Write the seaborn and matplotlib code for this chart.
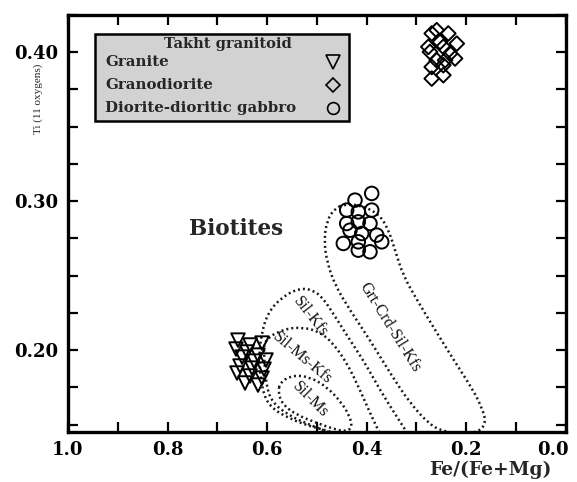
import numpy as np
import pandas as pd
import matplotlib
matplotlib.use("Agg")
import matplotlib.pyplot as plt
import matplotlib.transforms as mtransforms
import seaborn as sns
from matplotlib.path import Path
from matplotlib.patches import PathPatch, Rectangle
from matplotlib.ticker import MultipleLocator, FuncFormatter

# ---------------- data ----------------
granite_x = [0.6583, 0.6341, 0.6100, 0.6623, 0.6402, 0.6181, 0.6502, 0.6261, 0.6020,
             0.6542, 0.6301, 0.6060, 0.6603, 0.6341, 0.6100, 0.6442, 0.6181]
granite_y = [0.2067, 0.2034, 0.2047, 0.2007, 0.1987, 0.1966, 0.1953, 0.1926, 0.1933,
             0.1893, 0.1879, 0.1872, 0.1846, 0.1826, 0.1812, 0.1779, 0.1765]

granodiorite_x = [0.2689, 0.2589, 0.2356, 0.2757, 0.2522, 0.2456, 0.2186, 0.2724,
                  0.2321, 0.2589, 0.2421, 0.2220, 0.2689, 0.2456, 0.2689, 0.2456]
granodiorite_y = [0.4126, 0.4148, 0.4126, 0.4036, 0.4069, 0.4036, 0.4058, 0.4002,
                  0.3991, 0.3946, 0.3946, 0.3958, 0.3901, 0.3913, 0.3823, 0.3846]

diorite_x = [0.3895, 0.4231, 0.4398, 0.4165, 0.3895, 0.4398, 0.4165, 0.3930,
             0.4332, 0.4096, 0.3795, 0.4466, 0.4165, 0.3694, 0.4165, 0.3930]
diorite_y = [0.3052, 0.3007, 0.2940, 0.2928, 0.2940, 0.2850, 0.2861, 0.2850,
             0.2805, 0.2783, 0.2772, 0.2716, 0.2727, 0.2727, 0.2671, 0.2660]

group_names = ["Granite", "Granodiorite", "Diorite-dioritic gabbro"]
legend_title = "Takht granitoid"

# field outlines (Fe/(Fe+Mg), Ti)
grt_crd_x = [0.4633, 0.4794, 0.4854, 0.4794, 0.4633, 0.4332, 0.3929, 0.3527, 0.3126,
             0.2723, 0.2421, 0.2020, 0.1718, 0.1598, 0.1678, 0.1859, 0.2180, 0.2583,
             0.2984, 0.3266, 0.3426, 0.3568, 0.3768, 0.4131, 0.4432]
grt_crd_y = [0.2953, 0.2872, 0.2738, 0.2591, 0.2436, 0.2268, 0.2067, 0.1846, 0.1644,
             0.1497, 0.1450, 0.1436, 0.1456, 0.1517, 0.1611, 0.1732, 0.1899, 0.2114,
             0.2336, 0.2503, 0.2671, 0.2819, 0.2919, 0.2973, 0.2980]

sil_kfs_x = [0.4532, 0.5035, 0.5537, 0.5940, 0.6100, 0.6161, 0.6120, 0.5979, 0.5678,
             0.5336, 0.5075, 0.4874, 0.4674, 0.4332, 0.4030, 0.3728, 0.3387, 0.3166]
sil_kfs_y = [0.1436, 0.1477, 0.1537, 0.1617, 0.1732, 0.1933, 0.2101, 0.2255, 0.2362,
             0.2416, 0.2403, 0.2349, 0.2248, 0.2067, 0.1913, 0.1732, 0.1550, 0.1436]

sil_ms_kfs_x = [0.4674, 0.5136, 0.5578, 0.5899, 0.6020, 0.6060, 0.6060, 0.5678, 0.5276,
                0.4935, 0.4674, 0.4392, 0.4131, 0.3929, 0.3728]
sil_ms_kfs_y = [0.1436, 0.1497, 0.1564, 0.1651, 0.1765, 0.1966, 0.2067, 0.2141, 0.2154,
                0.2121, 0.2047, 0.1913, 0.1732, 0.1577, 0.1436]

sil_ms_x = [0.5738, 0.5477, 0.5136, 0.4794, 0.4492, 0.4332, 0.4291, 0.4392, 0.4593,
            0.4994, 0.5397, 0.5678, 0.5778]
sil_ms_y = [0.1785, 0.1832, 0.1819, 0.1752, 0.1644, 0.1550, 0.1483, 0.1456, 0.1463,
            0.1510, 0.1564, 0.1631, 0.1711]

x_ticks = [1.0, 0.8, 0.6, 0.4, 0.2, 0.0]
y_ticks = [0.20, 0.30, 0.40]

# ---------------- style ----------------
sns.set_theme(style="white")
plt.rcParams["font.family"] = ["DejaVu Serif"]
plt.rcParams["font.weight"] = "bold"

fig = plt.figure(figsize=(5.77, 4.82), dpi=100)
ax = fig.add_axes([68 / 577, 1 - 432 / 482, 497.5 / 577, 417 / 482])

df = pd.concat([
    pd.DataFrame({"fe": granite_x, "ti": granite_y, "rock": group_names[0]}),
    pd.DataFrame({"fe": granodiorite_x, "ti": granodiorite_y, "rock": group_names[1]}),
    pd.DataFrame({"fe": diorite_x, "ti": diorite_y, "rock": group_names[2]}),
], ignore_index=True)

markers = {group_names[0]: "v", group_names[1]: "D", group_names[2]: "o"}
sizes = {group_names[0]: 95, group_names[1]: 56, group_names[2]: 95}
for g in group_names:
    sub = df[df["rock"] == g]
    sns.scatterplot(data=sub, x="fe", y="ti", marker=markers[g], s=sizes[g],
                    facecolors="none", edgecolor="black", linewidth=1.4,
                    ax=ax, legend=False, zorder=4)


def smooth_path(xs, ys, closed):
    pts = np.column_stack([xs, ys])
    if closed:
        mids = (pts + np.roll(pts, -1, axis=0)) / 2
        verts = [mids[-1]]
        codes = [Path.MOVETO]
        for i in range(len(pts)):
            verts += [pts[i], mids[i]]
            codes += [Path.CURVE3, Path.CURVE3]
    else:
        verts = [pts[0]]
        codes = [Path.MOVETO]
        n = len(pts)
        for i in range(1, n - 1):
            end = (pts[i] + pts[i + 1]) / 2 if i < n - 2 else pts[i + 1]
            verts += [pts[i], end]
            codes += [Path.CURVE3, Path.CURVE3]
    return Path(verts, codes)


dot_style = dict(facecolor="none", edgecolor="#1a1a1a", linewidth=1.8,
                 linestyle=(0, (0.8, 1.2)), zorder=2)
for fx, fy, closed in [(grt_crd_x, grt_crd_y, True), (sil_kfs_x, sil_kfs_y, False),
                       (sil_ms_kfs_x, sil_ms_kfs_y, False), (sil_ms_x, sil_ms_y, True)]:
    ax.add_patch(PathPatch(smooth_path(fx, fy, closed), **dot_style))

# field labels
lab = dict(family=["Liberation Serif"], fontweight="normal", fontsize=11.5,
           ha="center", va="center", rotation_mode="anchor", color="#111111")
ax.text(0.5136, 0.2221, "Sil-Kfs", rotation=-52, **lab)
ax.text(0.5296, 0.1946, "Sil-Ms-Kfs", rotation=-40, **lab)
ax.text(0.5136, 0.1664, "Sil-Ms", rotation=-45, **lab)
ax.text(0.3527, 0.2154, "Grt-Crd-Sil-Kfs", rotation=-58, **lab)

ax.text(0.6613, 0.2812, "Biotites", fontsize=15.5, fontweight="bold",
        ha="center", va="center")

# axes
ax.set_xlim(1.0, 0.0)
ax.set_ylim(0.145, 0.425)
ax.xaxis.set_major_locator(MultipleLocator(0.1))
ax.yaxis.set_major_locator(MultipleLocator(0.025))
ax.xaxis.set_major_formatter(FuncFormatter(
    lambda v, p: f"{v:.1f}" if any(abs(v - t) < 1e-6 for t in x_ticks) else ""))
ax.yaxis.set_major_formatter(FuncFormatter(
    lambda v, p: f"{v:.2f}" if any(abs(v - t) < 1e-6 for t in y_ticks) else ""))
ax.tick_params(axis="both", which="major", direction="in", length=7, width=1.6,
               top=True, right=True, bottom=True, left=True,
               labelsize=13, color="black", labelcolor="black")
ax.tick_params(axis="x", pad=6.5)
ax.tick_params(axis="y", pad=7)
fig.canvas.draw()
for lbl in ax.get_xticklabels() + ax.get_yticklabels():
    lbl.set_fontweight("bold")
# shift the last x tick label ("0.0") slightly left so it stays inside the figure
shift = mtransforms.ScaledTranslation(-13 / 100, 0, fig.dpi_scale_trans)
for lbl in ax.get_xticklabels():
    if lbl.get_text() == "0.0":
        lbl.set_transform(lbl.get_transform() + shift)
for sp in ax.spines.values():
    sp.set_linewidth(2.4)
    sp.set_color("black")
    sp.set_visible(True)
ax.grid(False)
ax.set_facecolor("white")

ax.set_xlabel("Fe/(Fe+Mg)", fontsize=13.5, fontweight="bold", ha="right", va="top")
ax.xaxis.set_label_coords(0.971, -0.07)
ax.set_ylabel("Ti (11 oxygens)", family=["Liberation Serif"], fontweight="normal",
              fontsize=8, va="center", ha="center")
ax.yaxis.set_label_coords(-0.0593, 0.80)

# legend box
lx0, ly0, lw_, lh_ = 0.0543, 0.7458, 0.5106, 0.2086
ax.add_patch(Rectangle((lx0, ly0), lw_, lh_, transform=ax.transAxes,
                       facecolor="#d2d2d2", edgecolor="black", linewidth=1.8,
                       zorder=6, clip_on=False))
ax.text(0.3216, 0.930, legend_title, transform=ax.transAxes, fontsize=10.5,
        fontweight="bold", ha="center", va="center", zorder=7)
row_y = [0.887, 0.832, 0.777]
leg_ms = {group_names[0]: 10, group_names[1]: 7, group_names[2]: 8.5}
for g, yy in zip(group_names, row_y):
    ax.text(0.0744, yy, g, transform=ax.transAxes, fontsize=10.8, fontweight="bold",
            ha="left", va="center", zorder=7)
    ax.plot([0.5327], [yy], marker=markers[g], ms=leg_ms[g], mfc="none",
            mec="black", mew=1.2, transform=ax.transAxes, zorder=7, clip_on=False)

fig.savefig("out.png", dpi=100)
